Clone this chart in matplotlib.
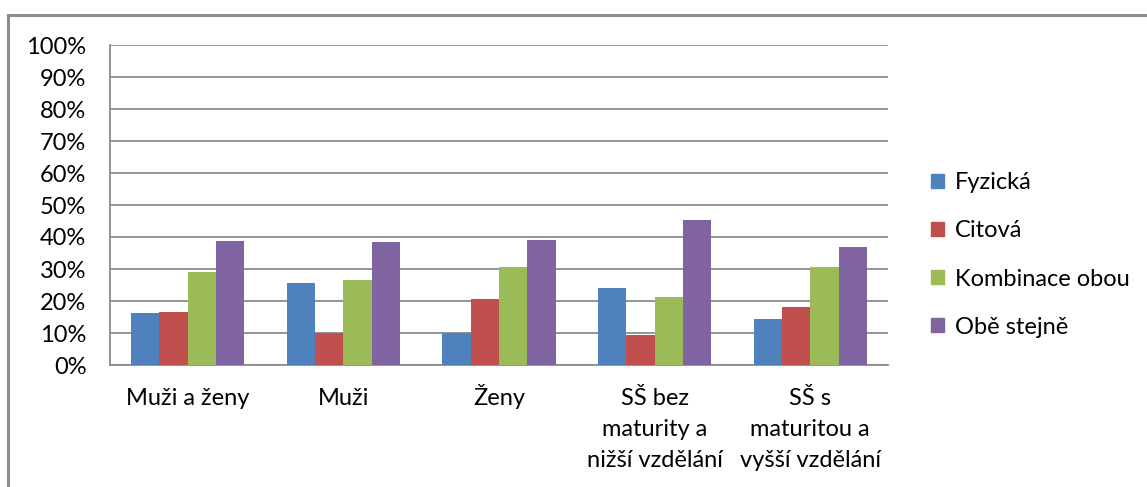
import numpy as np
import matplotlib.pyplot as plt
from matplotlib.patches import Patch, Rectangle
from matplotlib.ticker import PercentFormatter
from matplotlib.transforms import offset_copy

categories = ["Muži a ženy", "Muži", "Ženy",
              "SŠ bez\nmaturity a\nnižší vzdělání",
              "SŠ s\nmaturitou a\nvyšší vzdělání"]
series = ["Fyzická", "Citová", "Kombinace obou", "Obě stejně"]
fyzicka = [16.1, 25.5, 10.1, 24.1, 14.5]
citova = [16.7, 10.1, 20.6, 9.3, 18.1]
kombinace = [29.1, 26.7, 30.6, 21.3, 30.5]
obe = [38.6, 38.3, 39.1, 45.4, 36.9]
colors = ["#4f81bd", "#c0504d", "#9bbb59", "#8064a2"]

plt.rcParams['font.family'] = ['Lato', 'DejaVu Sans']

fig = plt.figure(figsize=(11.47, 4.87), dpi=100)
ax = fig.add_axes([110/1147, 1-365/487, 778/1147, 320/487])

# outer chart frame, cut off at right and bottom
fig.patches.append(Rectangle((8/1147, -0.1), 1.2, 1-15/487+0.1,
                             transform=fig.transFigure, fill=False,
                             edgecolor="#8c8c8c", linewidth=2.2))

x = np.arange(len(categories))
w = 0.182
for i, (vals, c) in enumerate(zip([fyzicka, citova, kombinace, obe], colors)):
    ax.bar(x + (i - 1.5) * w, vals, w, color=c, zorder=3)

ax.set_xlim(-0.5, len(categories) - 0.5)
ax.set_ylim(0, 100)
ax.set_yticks(range(0, 101, 10))
ax.yaxis.set_major_formatter(PercentFormatter(decimals=0))
ax.set_xticks(x)
ax.set_xticklabels([])
ax.grid(axis='y', color="#8c8c8c", linewidth=1.3, zorder=0)
ax.tick_params(length=0, labelsize=17, colors="black")
ax.tick_params(axis='y', pad=17)
for s in ["top", "right"]:
    ax.spines[s].set_visible(False)
for s in ["left", "bottom"]:
    ax.spines[s].set_color("#8c8c8c")
    ax.spines[s].set_linewidth(1.3)

# category labels, one text per line so the first baselines line up
for xi, lab in zip(x, categories):
    for j, line in enumerate(lab.split("\n")):
        tr = offset_copy(ax.get_xaxis_transform(), fig=fig, x=0, y=-28.8 - 22.3 * j, units='points')
        ax.text(xi, 0, line, transform=tr, ha='center', va='baseline', fontsize=17)

handles = [Patch(color=c) for c in colors]
fig.legend(handles, series, loc="center left", bbox_to_anchor=(910/1147, 1-255/487),
           frameon=False, fontsize=17, handlelength=0.55, handleheight=0.55,
           handletextpad=0.45, labelspacing=1.15)

fig.savefig("out.png", dpi=100)
